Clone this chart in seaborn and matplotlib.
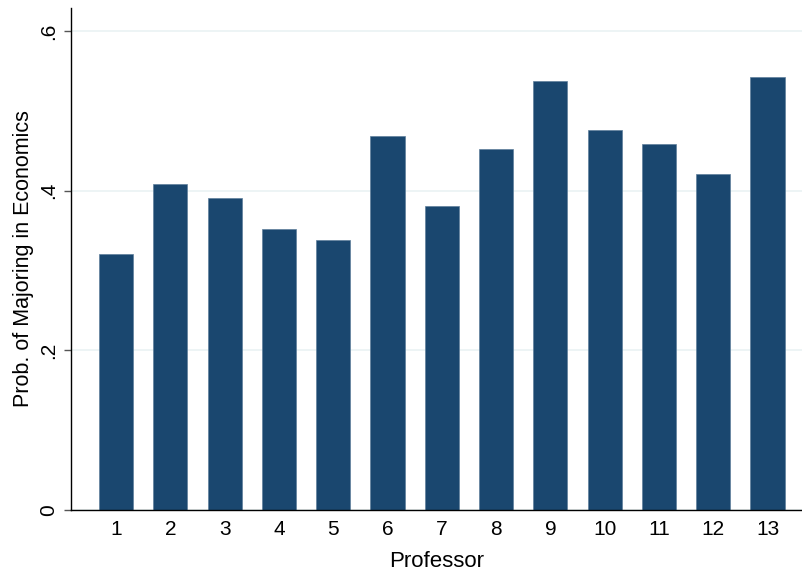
import matplotlib
matplotlib.use("Agg")
import pandas as pd
import seaborn as sns
import matplotlib.pyplot as plt

# data
professors = ["1", "2", "3", "4", "5", "6", "7", "8", "9", "10", "11", "12", "13"]
prob_econ = [0.321, 0.408, 0.391, 0.352, 0.338, 0.469, 0.381, 0.452, 0.537, 0.476, 0.458, 0.421, 0.542]

df = pd.DataFrame({"Professor": professors, "Prob": prob_econ})

sns.set_style("white")
plt.rcParams["font.family"] = ["Liberation Sans", "DejaVu Sans"]
plt.rcParams["text.color"] = "black"
plt.rcParams["axes.labelcolor"] = "black"
plt.rcParams["xtick.color"] = "black"
plt.rcParams["ytick.color"] = "black"

fig = plt.figure(figsize=(8.02, 5.72), dpi=100)
ax = fig.add_axes([0.0885, 0.1084, 0.9115, 0.8776])

sns.barplot(data=df, x="Professor", y="Prob", color="#1a476f", width=0.63,
            saturation=1, edgecolor="#5f7f9c", linewidth=0.5, ax=ax)

ax.set_ylim(0, 0.629)
ax.set_xlim(-0.83, 12.635)
ax.set_yticks([0, 0.2, 0.4, 0.6])
ax.set_yticklabels(["0", ".2", ".4", ".6"], rotation=90, va="center")
ax.yaxis.grid(True, color="#eaf2f3", linewidth=1.2)
ax.set_axisbelow(True)

sns.despine(ax=ax)
ax.spines["left"].set_color("black")
ax.spines["bottom"].set_color("black")
ax.spines["left"].set_linewidth(1)
ax.spines["bottom"].set_linewidth(1)
ax.tick_params(axis="y", left=True, length=5, width=1, color="#555555",
               labelcolor="black", labelsize=15, pad=4)
ax.tick_params(axis="x", bottom=False, length=0, labelcolor="black", labelsize=15, pad=7)

ax.set_xlabel("Professor", fontsize=16, labelpad=9)
ax.set_ylabel("Prob. of Majoring in Economics", fontsize=15.5, labelpad=4)

fig.savefig("out.png", dpi=100)
